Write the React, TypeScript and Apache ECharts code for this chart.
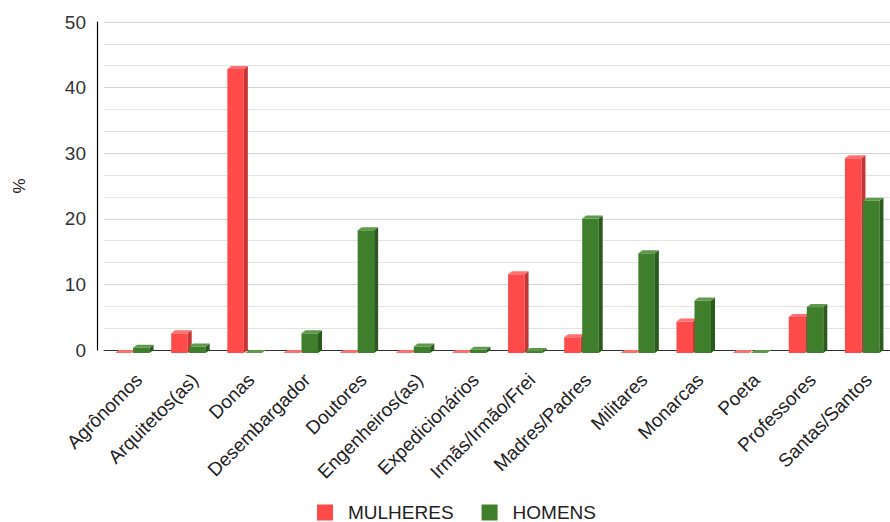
import React, { useEffect, useRef } from "react";
import * as echarts from "echarts";

const categories = [
  "Agrônomos",
  "Arquitetos(as)",
  "Donas",
  "Desembargador",
  "Doutores",
  "Engenheiros(as)",
  "Expedicionários",
  "Irmãs/Irmão/Frei",
  "Madres/Padres",
  "Militares",
  "Monarcas",
  "Poeta",
  "Professores",
  "Santas/Santos",
];

const mulheres = [0, 3.0, 43.3, 0, 0, 0, 0, 12.0, 2.4, 0, 4.8, 0, 5.5, 29.7];
const homens = [0.8, 1.0, 0, 3.0, 18.7, 1.0, 0.5, 0.3, 20.5, 15.2, 8.0, 0, 7.0, 23.2];

const yTicks = [0, 10, 20, 30, 40, 50];

const FONT = "'Liberation Sans', Arial, sans-serif";

// Face colours for the pseudo-3D columns: front, side, top
const palette = [
  { name: "MULHERES", front: "#ff4a4a", side: "#c43636", top: "#ff7070", offset: -17 },
  { name: "HOMENS", front: "#3f7e2b", side: "#2b5a1d", top: "#5f9a4b", offset: 1 },
];

function makeColumnRenderer(offset: number, colors: { front: string; side: string; top: string }) {
  const w = 16.5;
  const dx = 4;
  const dy = 3;
  return (_params: any, api: any) => {
    const k = api.value(0);
    const v = api.value(1);
    const [cx, yTop] = api.coord([k, v]);
    const y0 = api.coord([k, 0])[1];
    const x0 = cx + offset;
    const children: any[] = [];
    if (y0 - yTop > 0.01) {
      children.push({
        type: "rect",
        shape: { x: x0, y: yTop + dy, width: w, height: y0 - yTop },
        style: { fill: colors.front },
      });
      children.push({
        type: "polygon",
        shape: {
          points: [
            [x0 + w, yTop + dy],
            [x0 + w + dx, yTop],
            [x0 + w + dx, y0],
            [x0 + w, y0 + dy],
          ],
        },
        style: { fill: colors.side },
      });
    }
    children.push({
      type: "polygon",
      shape: {
        points: [
          [x0, yTop + dy],
          [x0 + dx, yTop],
          [x0 + w + dx, yTop],
          [x0 + w, yTop + dy],
        ],
      },
      style: { fill: colors.top },
    });
    return { type: "group", children };
  };
}

export default function App() {
  const ref = useRef<HTMLDivElement>(null);

  useEffect(() => {
    document.body.style.margin = "0";
    if (!ref.current) return;
    const chart = echarts.init(ref.current, undefined, { renderer: "svg" });
    const seriesData = [mulheres, homens];

    chart.setOption({
      animation: false,
      backgroundColor: "#ffffff",
      textStyle: { fontFamily: FONT },
      grid: { left: 104, right: 0, top: 22, bottom: 172, containLabel: false },
      legend: {
        left: 317,
        top: 503,
        padding: 0,
        itemWidth: 16,
        itemHeight: 16,
        itemGap: 28,
        icon: "rect",
        textStyle: { fontSize: 19, color: "#222", fontFamily: FONT, padding: [0, 0, 0, 10] },
        data: palette.map((p) => p.name),
      },
      xAxis: {
        type: "category",
        data: categories,
        axisLine: { show: true, lineStyle: { color: "#333", width: 1 } },
        axisTick: { show: false },
        axisLabel: {
          interval: 0,
          rotate: 45,
          margin: 20,
          verticalAlign: "top",
          fontSize: 19,
          color: "#222",
          fontFamily: FONT,
        },
        splitLine: { show: false },
      },
      yAxis: {
        type: "value",
        min: yTicks[0],
        max: yTicks[yTicks.length - 1],
        interval: 10,
        offset: 7,
        name: "%",
        nameLocation: "middle",
        nameRotate: 90,
        nameGap: 69,
        nameTextStyle: { fontSize: 17, color: "#222", fontFamily: FONT },
        axisLine: { show: true, lineStyle: { color: "#000", width: 1.2 } },
        axisTick: { show: false },
        axisLabel: { margin: 11, fontSize: 19, color: "#333", fontFamily: FONT },
        splitLine: { show: true, lineStyle: { color: "#d4d4d4", width: 1 } },
        minorTick: { show: false, splitNumber: 3 },
        minorSplitLine: { show: true, lineStyle: { color: "#e4e4e4", width: 1 } },
      },
      series: palette.map((p, i) => ({
        type: "custom",
        name: p.name,
        itemStyle: { color: p.front },
        renderItem: makeColumnRenderer(p.offset, p),
        encode: { x: 0, y: 1 },
        data: seriesData[i].map((v, k) => [k, v]),
        z: 3,
      })),
    });

    return () => chart.dispose();
  }, []);

  return <div ref={ref} style={{ width: 890, height: 522 }} />;
}
